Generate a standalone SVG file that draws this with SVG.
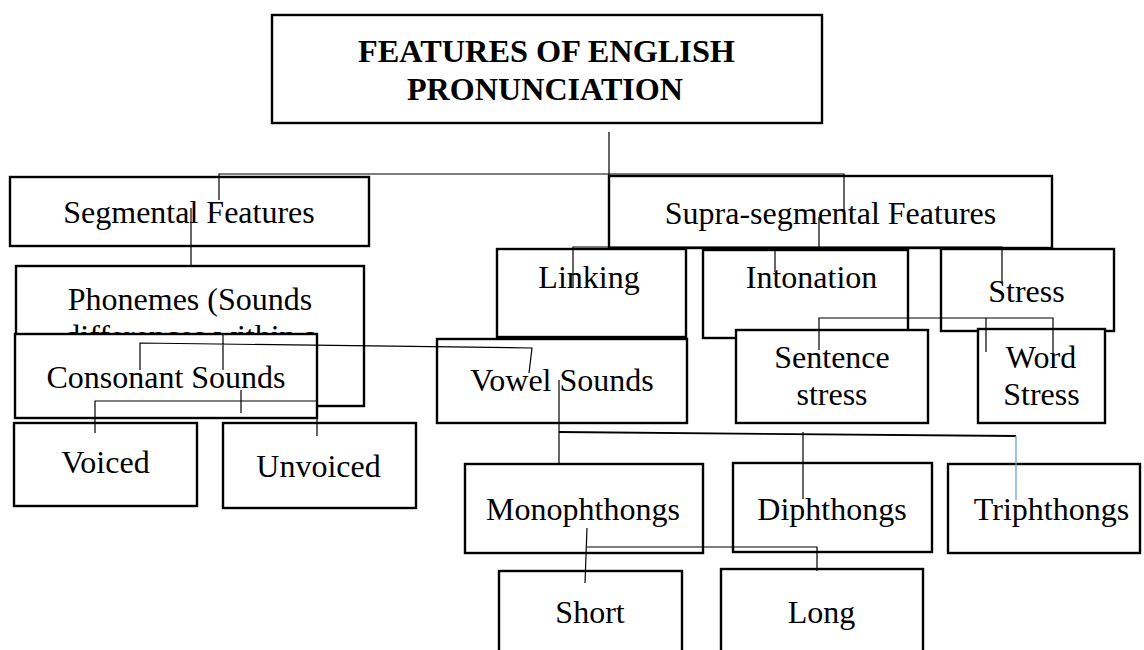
<svg xmlns="http://www.w3.org/2000/svg" width="1144" height="650" viewBox="0 0 1144 650">
<style>
.box{fill:#fff;stroke:#000;stroke-width:2.4}
.t{font-family:"Liberation Serif","Times New Roman",serif;font-size:32px;fill:#000;text-anchor:middle}
.tb{font-weight:bold;font-size:31px}
.c{fill:none;stroke:#000;stroke-width:1.2}
</style>
<rect width="1144" height="650" fill="#fff"/>
<g id="title"><rect class="box" x="272" y="15" width="550" height="108"/>
<text class="t tb" x="546.5" y="62" textLength="377" lengthAdjust="spacingAndGlyphs">FEATURES OF ENGLISH</text>
<text class="t tb" x="545" y="100" textLength="276" lengthAdjust="spacingAndGlyphs">PRONUNCIATION</text></g>
<g id="segmental"><rect class="box" x="10" y="177" width="359" height="69"/><text class="t" x="189" y="223">Segmental Features</text></g>
<g id="supra"><rect class="box" x="609" y="176" width="443" height="72"/><text class="t" x="830.5" y="224">Supra-segmental Features</text></g>
<g id="phonemes"><rect class="box" x="16" y="266" width="348" height="140"/><text class="t" x="190" y="310">Phonemes (Sounds</text><text class="t" x="191" y="347">differences within a</text></g>
<g id="consonant"><rect class="box" x="15" y="334" width="302" height="84"/><text class="t" x="166" y="388">Consonant Sounds</text></g>
<g id="linking"><rect class="box" x="497" y="249" width="189" height="88"/><text class="t" x="589" y="288">Linking</text></g>
<g id="intonation"><rect class="box" x="703" y="250" width="205" height="88"/><text class="t" x="811.5" y="288">Intonation</text></g>
<g id="stress"><rect class="box" x="941" y="249" width="173" height="82"/><text class="t" x="1026.5" y="302">Stress</text></g>
<g id="sentence-stress"><rect class="box" x="736" y="330" width="192" height="93"/><text class="t" x="832" y="368">Sentence</text><text class="t" x="832" y="405">stress</text></g>
<g id="word-stress"><rect class="box" x="978" y="329" width="127" height="94"/><text class="t" x="1041" y="368">Word</text><text class="t" x="1041.5" y="405">Stress</text></g>
<g id="vowel"><rect class="box" x="437" y="339" width="250" height="84"/><text class="t" x="562" y="391">Vowel Sounds</text></g>
<g id="voiced"><rect class="box" x="14" y="423" width="183" height="83"/><text class="t" x="105.5" y="473">Voiced</text></g>
<g id="unvoiced"><rect class="box" x="223" y="423" width="193" height="85"/><text class="t" x="318.5" y="477">Unvoiced</text></g>
<g id="monophthongs"><rect class="box" x="465" y="464" width="238" height="89"/><text class="t" x="583" y="520">Monophthongs</text></g>
<g id="diphthongs"><rect class="box" x="733" y="463" width="199" height="89"/><text class="t" x="832" y="520">Diphthongs</text></g>
<g id="triphthongs"><rect class="box" x="948" y="464" width="192" height="89"/><text class="t" x="1051.5" y="520">Triphthongs</text></g>
<g id="short"><rect class="box" x="499" y="571" width="183" height="90"/><text class="t" x="590" y="623">Short</text></g>
<g id="long"><rect class="box" x="721" y="569" width="202" height="92"/><text class="t" x="821.5" y="623">Long</text></g>
<g id="connectors">
<path class="c" d="M609 132V175M219 200V174H844V212"/>
<path class="c" d="M191 208V266"/>
<path class="c" d="M819 217V247M573 287V247H1002V282M775 247V272"/>
<path class="c" d="M819 350V318H1053V368M986 318V352"/>
<path class="c" d="M140 370V343L532 348L529 373M223 335V370"/>
<path class="c" d="M95 433V401H317V436M241 390V413"/>
<path class="c" d="M559 380V463"/>
<path d="M559 432L1016 436" fill="none" stroke="#000" stroke-width="1.8"/>
<path class="c" d="M803 432V499"/>
<path d="M1016 436V500" fill="none" stroke="#5b9bd5" stroke-width="1.2"/>
<path class="c" d="M587 528L585 583M587 547H817V571"/>
</g>
</svg>
